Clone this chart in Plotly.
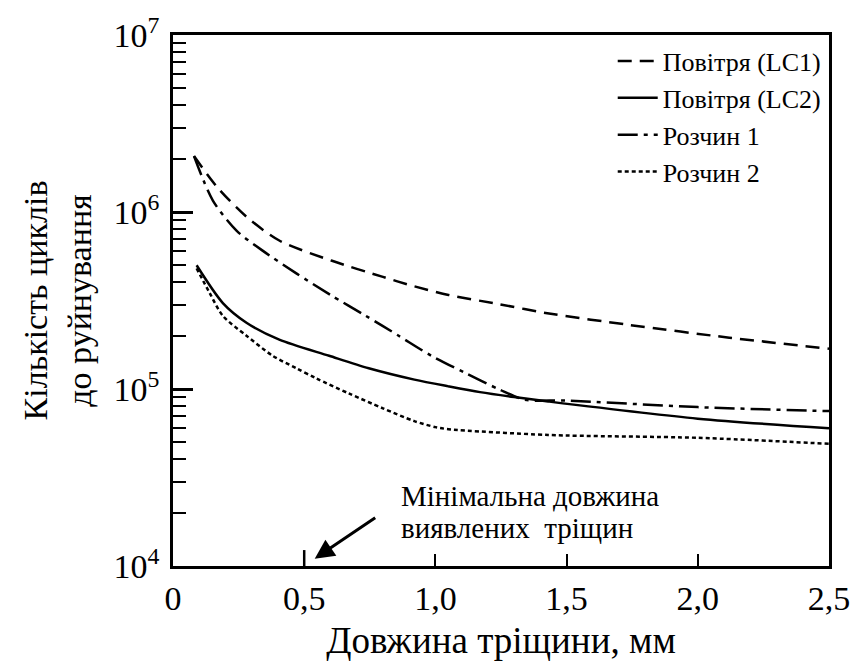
import plotly.graph_objects as go
import math

# Data
x_lc1 = [0.08, 0.167, 0.28, 0.405, 0.606, 0.80, 0.92, 1.05, 1.24, 1.42, 1.74, 2.12, 2.5]
y_lc1 = [2.07e6, 1.39e6, 9.4e5, 6.9e5, 5.3e5, 4.3e5, 3.8e5, 3.4e5, 3.02e5, 2.69e5, 2.3e5, 1.95e5, 1.69e5]

x_lc2 = [0.09, 0.19, 0.28, 0.405, 0.595, 0.746, 0.92, 1.05, 1.17, 1.30, 1.43, 2.0, 2.5]
y_lc2 = [5.0e5, 3.06e5, 2.37e5, 1.9e5, 1.54e5, 1.31e5, 1.13e5, 1.035e5, 9.6e4, 9.0e4, 8.5e4, 6.8e4, 6.0e4]

x_r1 = [0.08, 0.152, 0.242, 0.34, 0.47, 0.60, 0.735, 0.86, 0.985, 1.11, 1.24, 1.34, 1.5, 2.0, 2.5]
y_r1 = [2.07e6, 1.16e6, 7.85e5, 6.07e5, 4.5e5, 3.4e5, 2.59e5, 2.0e5, 1.54e5, 1.24e5, 1.0e5, 8.7e4, 8.6e4, 7.9e4, 7.5e4]

x_r2 = [0.09, 0.14, 0.19, 0.28, 0.38, 0.47, 0.545, 0.67, 0.80, 0.92, 1.0, 1.05, 1.43, 2.0, 2.5]
y_r2 = [4.8e5, 3.48e5, 2.59e5, 2.0e5, 1.54e5, 1.31e5, 1.15e5, 9.44e4, 7.78e4, 6.58e4, 6.09e4, 5.93e4, 5.5e4, 5.3e4, 4.9e4]

names = ["Повітря (LC1)", "Повітря (LC2)", "Розчин 1", "Розчин 2"]
x_ticks = [0, 0.5, 1.0, 1.5, 2.0, 2.5]
x_ticktext = ["0", "0,5", "1,0", "1,5", "2,0", "2,5"]
y_ticks = [1e4, 1e5, 1e6, 1e7]
y_ticktext = ["10<sup>4</sup>", "10<sup>5</sup>", "10<sup>6</sup>", "10<sup>7</sup>"]
y_minor = [m * 10 ** e for e in range(4, 7) for m in range(2, 10)]
note_lines = ["Мінімальна довжина", "виявлених  тріщин"]
min_crack_len = 0.5

FONT = "Liberation Serif"

fig = go.Figure()
styles = [
    (x_lc1, y_lc1, "14px,8px"),
    (x_lc2, y_lc2, "solid"),
    (x_r1, y_r1, "20px,6px,4px,6px"),
    (x_r2, y_r2, "4px,3px"),
]
for (xs, ys, dash), name in zip(styles, names):
    fig.add_trace(go.Scatter(
        x=xs, y=ys, mode="lines", name=name,
        line=dict(color="black", width=2.5, dash=dash, shape="spline", smoothing=0.8),
    ))

fig.update_layout(
    width=862, height=670,
    paper_bgcolor="white", plot_bgcolor="white",
    margin=dict(l=173, r=29, t=30, b=104),
    font=dict(family=FONT, color="black"),
    legend=dict(
        x=0.995, y=0.995, xanchor="right", yanchor="top",
        font=dict(size=26, family=FONT),
        bgcolor="rgba(0,0,0,0)", tracegroupgap=0, itemwidth=40,
    ),
    showlegend=True,
)

fig.update_xaxes(
    range=[0, 2.5], tickvals=x_ticks, ticktext=x_ticktext,
    ticks="inside", ticklen=12, tickwidth=2, tickcolor="black",
    showline=True, linewidth=2.5, linecolor="black", mirror=True,
    showgrid=False, zeroline=False,
    tickfont=dict(size=34, family=FONT),
    title=dict(text="Довжина тріщини, мм", font=dict(size=37, family=FONT), standoff=12),
)
fig.update_yaxes(
    type="log", range=[4, 7], tickvals=y_ticks, ticktext=y_ticktext,
    ticks="inside", ticklen=20, tickwidth=2.5, tickcolor="black",
    minor=dict(tickvals=y_minor, ticks="inside", ticklen=13, tickwidth=2, tickcolor="black"),
    showline=True, linewidth=2.5, linecolor="black", mirror=True,
    showgrid=False, zeroline=False,
    tickfont=dict(size=34, family=FONT),
    ticklabelstandoff=4,
    title=dict(text="Кількість циклів<br>до руйнування", font=dict(size=34, family=FONT), standoff=12),
)

# taller marker tick at the minimum detectable crack length
fig.add_shape(type="line", xref="x", yref="paper",
              x0=min_crack_len, x1=min_crack_len, y0=0, y1=0.03,
              line=dict(color="black", width=2.5))

for line, ypix in zip(note_lines, [496, 528]):
    fig.add_annotation(
        x=0.86, y=0.0, xref="x", yref="paper",
        yshift=566 - ypix,
        text=line, showarrow=False,
        xanchor="left", yanchor="middle", align="left",
        font=dict(size=29, family=FONT, color="black"),
    )
fig.add_annotation(
    x=0.54, y=math.log10(1.1e4), xref="x", yref="y",
    ax=62, ay=-42, showarrow=True, arrowhead=2, arrowsize=1.3,
    arrowwidth=3, arrowcolor="black", text="",
)

fig.write_html("out.html", post_script="document.body.style.margin='0';",
               config={"displayModeBar": False})
